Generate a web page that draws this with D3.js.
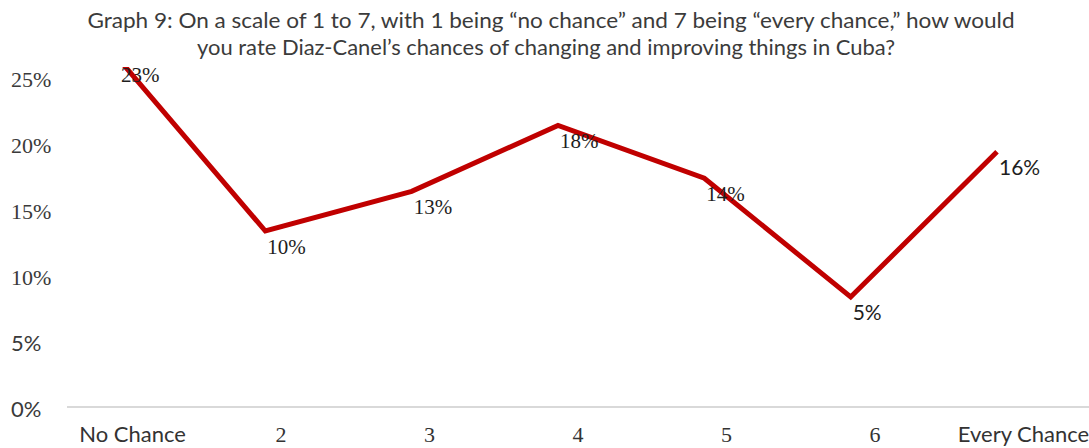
<!DOCTYPE html>
<html>
<head>
<meta charset="utf-8">
<script src="https://d3js.org/d3.v7.min.js"></script>
<style>
  body { margin: 0; background: #fff; }
  svg { display: block; }
</style>
</head>
<body>
<script>
// values
const categories = ['No Chance', '2', '3', '4', '5', '6', 'Every Chance'];
const shares = [23, 10, 13, 18, 14, 5, 16];
const yTicks = [0, 5, 10, 15, 20, 25];
const titleLines = [
  'Graph 9: On a scale of 1 to 7, with 1 being \u201cno chance\u201d and 7 being \u201cevery chance,\u201d how would',
  'you rate Diaz-Canel\u2019s chances of changing and improving things in Cuba?'
];

const width = 1089, height = 448;
const sans = 'Lato, "Open Sans", sans-serif';
const serif = '"Liberation Serif", "DejaVu Serif", serif';

const svg = d3.select('body').append('svg')
    .attr('width', width)
    .attr('height', height);

// axis scales
const y = d3.scaleLinear().domain([0, 25]).range([409, 79]);
const x = d3.scalePoint().domain(categories).range([132, 1023]);

// in the source image the plot layer sits a bit up and left of its axes
const yPlot = d3.scaleLinear().domain([0, 25]).range([363, 33]);
const xPlot = d3.scalePoint().domain(categories).range([119, 997]);

// baseline
svg.append('line')
    .attr('x1', 67).attr('x2', width)
    .attr('y1', y(0) - 2).attr('y2', y(0) - 2)
    .attr('stroke', '#d9d9d9')
    .attr('stroke-width', 2);

// y axis labels (left aligned)
const yAxis = svg.append('g')
    .attr('transform', 'translate(11,0)')
    .call(d3.axisLeft(y).tickValues(yTicks).tickFormat(d => d + '%').tickSize(0));
yAxis.select('.domain').remove();
yAxis.selectAll('text')
    .attr('x', 0)
    .attr('text-anchor', 'start')
    .attr('fill', '#3a3a3a')
    .style('font-size', '22px')
    .style('font-family', d => d <= 5 ? sans : serif);

// x axis labels
const xAxis = svg.append('g')
    .attr('transform', 'translate(0,442)')
    .call(d3.axisBottom(x).tickSize(0));
xAxis.select('.domain').remove();
xAxis.selectAll('text')
    .attr('y', 0)
    .attr('dy', 0)
    .attr('fill', '#333')
    .style('font-size', '22px')
    .style('font-family', d => isNaN(+d) ? sans : serif);

// the line
const line = d3.line()
    .x((d, i) => xPlot(categories[i]))
    .y(d => yPlot(d));

svg.append('path')
    .datum(shares)
    .attr('d', line)
    .attr('fill', 'none')
    .attr('stroke', '#c00000')
    .attr('stroke-width', 5)
    .attr('stroke-linejoin', 'miter');

// data labels
svg.append('g').selectAll('text')
    .data(shares)
    .join('text')
    .attr('x', (d, i) => xPlot(categories[i]) + 2)
    .attr('y', d => yPlot(d) + 23)
    .attr('fill', '#1e1e1e')
    .style('font-size', '21px')
    .style('font-family', (d, i) => (i === 5 || i === 6) ? sans : serif)
    .text(d => d + '%');

// title box covers the top of the plot
svg.append('rect')
    .attr('x', 0).attr('y', 0)
    .attr('width', width).attr('height', 67)
    .attr('fill', '#fff');

const titleWidths = [927, 698];
svg.append('g').selectAll('text')
    .data(titleLines)
    .join('text')
    .attr('x', (d, i) => i === 0 ? 551 : 546)
    .attr('y', (d, i) => 28 + i * 27)
    .attr('text-anchor', 'middle')
    .attr('fill', '#3b3b3b')
    .attr('textLength', (d, i) => titleWidths[i])
    .attr('lengthAdjust', 'spacingAndGlyphs')
    .style('font-size', '21px')
    .style('font-family', sans)
    .text(d => d);
</script>
</body>
</html>
